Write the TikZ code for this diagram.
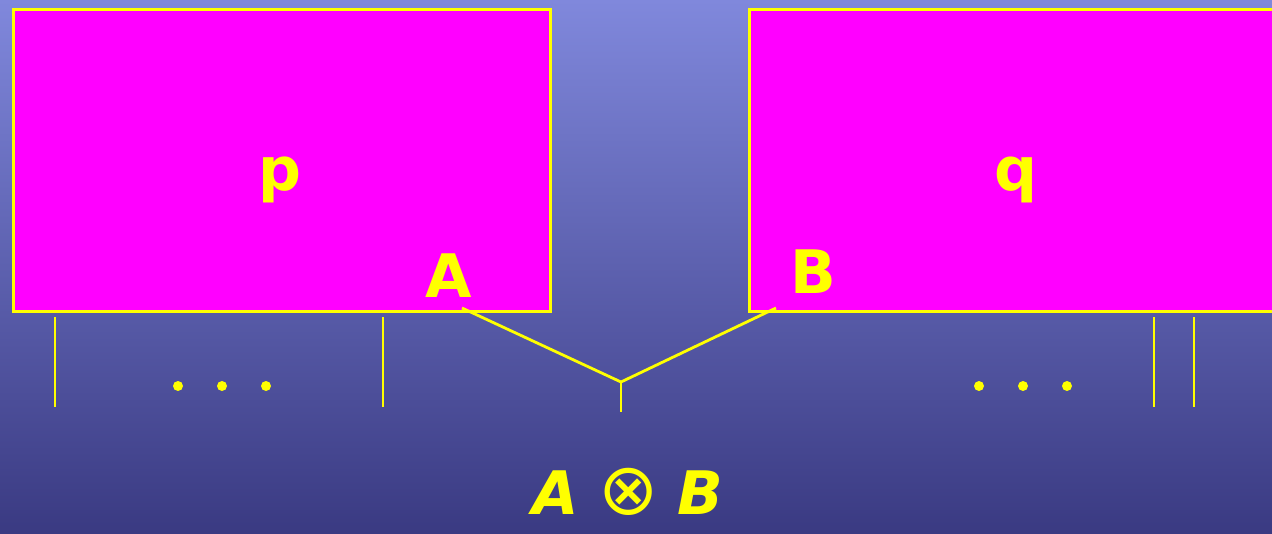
\documentclass[tikz,border=0pt]{standalone}
\usepackage{fontspec}
\setmainfont{DejaVu Sans}
\definecolor{mag}{RGB}{255,0,255}
\definecolor{yel}{RGB}{255,255,0}
\begin{document}
\begin{tikzpicture}[x=1pt,y=-1pt,
  box/.style={draw=yel,fill=mag,line width=2.5pt,inner sep=0pt,anchor=north west},
  lbl/.style={text=yel,font=\fontsize{60}{64}\selectfont\bfseries,inner sep=0pt},
  wire/.style={draw=yel,line width=2.8pt},
  dot/.style={circle,fill=yel,inner sep=0pt,minimum size=10pt}]
\shade[top color={rgb,255:red,128;green,136;blue,220},bottom color={rgb,255:red,58;green,58;blue,130}] (0,0) rectangle (1272,533);
\useasboundingbox (0,0) rectangle (1272,533);
\node[box,minimum width=537pt,minimum height=302pt] (P) at (12,8) {};
\node[box,minimum width=540pt,minimum height=302pt] (Q) at (748,8) {};
\node[lbl] (p) at (280,180) {p};
\node[lbl] (q) at (1016,180) {q};
\node[lbl] (A) at (449,276) {A};
\node[lbl] (B) at (813,272) {B};
\coordinate (a) at (462,308);
\coordinate (b) at (776,308);
\coordinate (m) at (621,382);
\coordinate (mb) at (621,412);
\draw[wire] (a) -- (m) -- (b);
\draw[wire] (m) -- (mb);
\foreach \x/\n in {55/l1,383/l2,1154/r1,1194/r2}{
  \coordinate (\n t) at (\x,317);
  \coordinate (\n b) at (\x,407);
  \draw[wire] (\n t) -- (\n b);
}
\foreach \x/\n in {178/d1,222/d2,266/d3,979/d4,1023/d5,1067/d6}{
  \node[dot] (\n) at (\x,386) {};
}
\node[lbl,font=\fontsize{60}{64}\selectfont] (AB) at (628,492) {\textbf{\itshape A} {\mdseries\fontsize{72}{72}\selectfont ⊗} \textbf{\itshape B}};
\end{tikzpicture}
\end{document}
